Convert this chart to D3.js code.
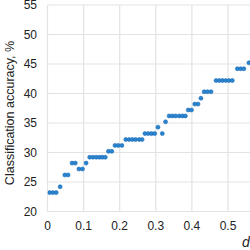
<!DOCTYPE html>
<html><head><meta charset="utf-8">
<script src="https://cdn.jsdelivr.net/npm/d3@7"></script>
<style>html,body{margin:0;padding:0;background:#fff;overflow:hidden}</style>
</head><body><div id="chart"></div>
<script>
const dValues = [0.006,0.015,0.024,0.035,0.048,0.057,0.068,0.077,0.087,0.097,0.107,
0.117,0.126,0.135,0.144,0.152,0.160,0.169,0.178,0.187,0.196,0.206,0.217,0.226,0.235,0.244,0.254,0.262,
0.270,0.279,0.288,0.297,0.306,0.318,0.327,0.337,0.346,0.355,0.365,0.374,0.382,0.390,0.399,0.408,0.417,
0.425,0.434,0.443,0.453,0.467,0.476,0.485,0.494,0.503,0.512,0.526,0.535,0.544,0.558];
const accValues = [23.2,23.2,23.2,24.2,26.2,26.2,28.2,28.2,27.2,27.2,28.2,
29.2,29.2,29.2,29.2,29.2,29.2,30.2,30.2,31.2,31.2,31.2,32.2,32.2,32.2,32.2,32.2,32.2,
33.2,33.2,33.2,33.2,34.3,33.2,35.2,36.2,36.2,36.2,36.2,36.2,36.2,37.2,37.2,38.2,38.2,
39.2,40.3,40.3,40.3,42.2,42.2,42.2,42.2,42.2,42.2,44.2,44.2,44.2,45.2];
const xTicks = [0,0.1,0.2,0.3,0.4,0.5];
const yTicks = [20,25,30,35,40,45,50,55];

const W=250,H=250;
const svg=d3.select("#chart").append("svg").attr("width",W).attr("height",H)
  .style("font-family","'Liberation Sans', Arial, sans-serif");
const x=d3.scaleLinear().domain([0,0.561]).range([47.5,250]);
const y=d3.scaleLinear().domain([20,55]).range([211.5,5]);

svg.append("defs").append("clipPath").attr("id","clip").append("rect")
  .attr("x",47.5).attr("y",0).attr("width",W-47.5).attr("height",214);

const grid=svg.append("g");
grid.selectAll("line.v").data(xTicks).join("line")
  .attr("x1",d=>x(d)).attr("x2",d=>x(d)).attr("y1",y(55)).attr("y2",y(20))
  .attr("stroke","#e3e3e3").attr("stroke-width",1.2);
grid.selectAll("line.h").data(yTicks).join("line")
  .attr("x1",x(0)).attr("x2",W).attr("y1",d=>y(d)).attr("y2",d=>y(d))
  .attr("stroke","#e3e3e3").attr("stroke-width",1.2);

svg.append("g").selectAll("text").data(yTicks).join("text")
  .attr("x",37).attr("y",d=>y(d)).attr("dy","0.35em").attr("text-anchor","end")
  .attr("font-size",12).attr("fill","#222").text(d=>d);
svg.append("g").selectAll("text").data(xTicks).join("text")
  .attr("x",d=>x(d)).attr("y",230).attr("text-anchor","middle")
  .attr("font-size",12).attr("fill","#222").text(d=>d);

svg.append("text").attr("transform","translate(14,113) rotate(-90)")
  .attr("text-anchor","middle").attr("font-size",12.5).attr("fill","#222")
  .text("Classification accuracy, %");
svg.append("text").attr("x",246).attr("y",247).attr("text-anchor","middle")
  .attr("font-size",14).attr("font-style","italic").attr("fill","#222").text("d");

svg.append("g").attr("clip-path","url(#clip)").selectAll("circle").data(dValues).join("circle")
  .attr("cx",d=>x(d)).attr("cy",(d,i)=>y(accValues[i])).attr("r",2)
  .attr("fill","#2b84cf").attr("stroke","#1d6db5").attr("stroke-width",0.6);
</script></body></html>
